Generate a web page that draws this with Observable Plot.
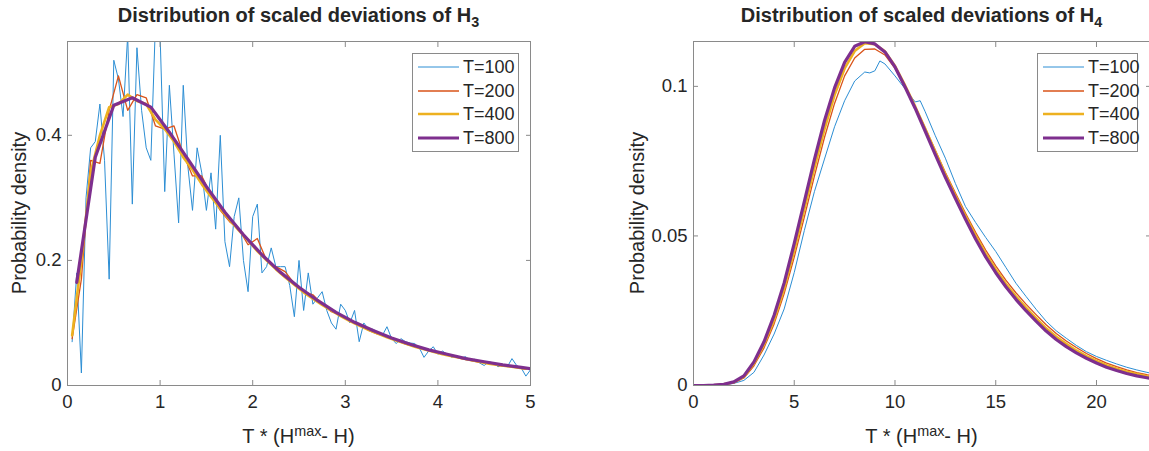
<!DOCTYPE html>
<html><head><meta charset="utf-8">
<script src="https://cdn.jsdelivr.net/npm/d3@7"></script>
<script src="https://cdn.jsdelivr.net/npm/@observablehq/plot@0.6"></script>
<style>
html,body{margin:0;padding:0;background:#fff;overflow:hidden;}
#root{position:relative;width:1149px;height:451px;overflow:hidden;font-family:"Liberation Sans",Arial,Helvetica,sans-serif;color:#262626;}
.panel{position:absolute;top:0;}
.title{position:absolute;top:3px;font-weight:bold;font-size:20px;line-height:24px;text-align:center;white-space:nowrap;}
.title sub{font-size:0.72em;vertical-align:-0.35em;line-height:0;}
.xlab{position:absolute;top:424px;font-size:20px;line-height:24px;text-align:center;white-space:nowrap;}
.xlab sup{font-size:0.72em;vertical-align:0.5em;line-height:0;}
.ylab{position:absolute;font-size:20px;line-height:22px;white-space:nowrap;transform:translate(-50%,-50%) rotate(-90deg);}
.legend{position:absolute;background:#fff;border:1px solid #8a8a8a;box-sizing:border-box;}
.legend .row{position:absolute;left:0;height:22px;font-size:18px;line-height:22px;white-space:nowrap;}
.legend svg{position:absolute;left:4px;top:0;}
.legend span{position:absolute;}
</style></head><body><div id="root"></div>
<script>
// ---------- data ----------
const seriesNames = ["T=100", "T=200", "T=400", "T=800"];

// H3 panel
const h3X100 = [0.05,0.1,0.15,0.2,0.25,0.3,0.35,0.4,0.45,0.5,0.55,0.6,0.65,0.7,0.75,0.8,0.85,0.9,0.95,1,1.05,1.1,1.15,1.2,1.25,1.3,1.35,1.4,1.45,1.5,1.55,1.6,1.65,1.7,1.75,1.8,1.85,1.9,1.95,2,2.05,2.1,2.15,2.2,2.25,2.3,2.35,2.4,2.45,2.5,2.55,2.6,2.65,2.7,2.75,2.8,2.85,2.9,2.95,3,3.05,3.1,3.15,3.2,3.25,3.3,3.35,3.4,3.45,3.5,3.55,3.6,3.65,3.7,3.75,3.8,3.85,3.9,3.95,4,4.05,4.1,4.15,4.2,4.25,4.3,4.35,4.4,4.45,4.5,4.55,4.6,4.65,4.7,4.75,4.8,4.85,4.9,4.95,5];
const h3Y100 = [0.07,0.18,0.02,0.30,0.38,0.39,0.45,0.36,0.17,0.52,
  0.49,0.43,0.56,0.29,0.54,0.44,0.38,0.36,0.58,0.56,
  0.31,0.48,0.37,0.26,0.48,0.35,0.28,0.38,0.34,0.28,
  0.34,0.25,0.40,0.23,0.19,0.27,0.30,0.20,0.15,0.27,
  0.29,0.18,0.19,0.22,0.19,0.19,0.19,0.16,0.11,0.20,
  0.12,0.18,0.13,0.14,0.15,0.12,0.10,0.09,0.13,0.12,
  0.10,0.12,0.07,0.10,0.09,0.09,0.085,0.08,0.094,0.075,
  0.067,0.075,0.07,0.068,0.067,0.06,0.045,0.055,0.062,0.05,
  0.055,0.05,0.045,0.048,0.044,0.046,0.04,0.042,0.036,0.032,
  0.038,0.036,0.03,0.034,0.03,0.043,0.032,0.028,0.015,0.025];
const h3X200 = [0.05,0.15,0.25,0.35,0.45,0.55,0.65,0.75,0.85,0.95,1.05,1.15,1.25,1.35,1.45,1.55,1.65,1.75,1.85,1.95,2.05,2.15,2.25,2.35,2.45,2.55,2.65,2.75,2.85,2.95,3.05,3.15,3.25,3.35,3.45,3.55,3.65,3.75,3.85,3.95,4.05,4.15,4.25,4.35,4.45,4.55,4.65,4.75,4.85,4.95];
const h3Y200 = [0.075,0.17,0.36,0.355,0.44,0.495,0.44,0.465,0.46,0.415,
  0.41,0.415,0.37,0.335,0.335,0.305,0.28,0.262,0.25,0.225,
  0.235,0.2,0.19,0.182,0.163,0.15,0.145,0.13,0.118,0.112,
  0.103,0.098,0.088,0.082,0.078,0.072,0.066,0.062,0.058,0.055,
  0.05,0.048,0.043,0.04,0.037,0.036,0.032,0.031,0.029,0.026];
const h3X400 = h3X200;
const h3Y400 = [0.08,0.2,0.34,0.4,0.445,0.45,0.465,0.455,0.45,0.425,
  0.41,0.39,0.365,0.345,0.322,0.302,0.283,0.265,0.248,0.232,
  0.215,0.2,0.186,0.173,0.161,0.149,0.139,0.129,0.12,0.111,
  0.103,0.096,0.089,0.083,0.077,0.072,0.067,0.062,0.058,0.054,
  0.05,0.047,0.044,0.041,0.038,0.035,0.033,0.031,0.029,0.027];
const h3X800 = [0.1,0.3,0.5,0.7,0.9,1.1,1.3,1.5,1.7,1.9,2.1,2.3,2.5,2.7,2.9,3.1,3.3,3.5,3.7,3.9,4.1,4.3,4.5,4.7,4.9,5.1];
const h3Y800 = [0.165,0.365,0.448,0.46,0.445,0.405,0.362,0.318,0.277,0.241,
  0.209,0.181,0.157,0.136,0.117,0.101,0.088,0.076,0.066,0.057,
  0.05,0.043,0.038,0.033,0.029,0.025];

// H4 panel
const h4X = [0,0.5,1,1.5,2,2.5,3,3.5,4,4.5,5,5.5,6,6.5,7,7.5,8,8.5,9,9.5,10,10.5,11,11.5,12,12.5,13,13.5,14,14.5,15,15.5,16,16.5,17,17.5,18,18.5,19,19.5,20,20.5,21,21.5,22,22.5,23];
const h4X100 = [0,0.5,1,1.5,2,2.5,3,3.5,4,4.5,5,5.5,6,6.5,7,7.5,8,8.5,8.75,9,9.25,9.5,10,10.5,11,11.25,11.5,12,12.5,13,13.5,14,14.5,15,15.5,16,16.5,17,17.5,18,18.5,19,19.5,20,20.5,21,21.5,22,22.5,23];
const h4Y100 = [0,0,0,0.0002,0.0007,0.0017,0.0044,0.0102,0.0172,0.0256,
  0.0378,0.0518,0.0648,0.0757,0.0865,0.0952,0.1018,0.1048,0.1045,0.1052,
  0.1085,0.1075,0.1035,0.0992,0.0948,0.0952,0.0915,0.0835,0.076,0.0675,
  0.0598,0.0545,0.0495,0.0448,0.0395,0.0342,0.0298,0.0255,0.0215,0.0183,
  0.0158,0.0134,0.0113,0.0097,0.0084,0.0072,0.0061,0.0052,0.0044,0.0037];
const h4Y200 = [0,0,0.0001,0.0003,0.0009,0.0025,0.0066,0.0126,0.0206,0.0307,
  0.0429,0.0563,0.07,0.0829,0.0943,0.1035,0.1095,0.1124,0.1125,0.1105,
  0.106,0.1,0.0933,0.0861,0.0786,0.0712,0.0643,0.0576,0.0512,0.0453,
  0.04,0.0352,0.031,0.0272,0.0237,0.0203,0.0174,0.0149,0.0127,0.0107,
  0.009,0.0075,0.0063,0.0052,0.0043,0.0036,0.003];
const h4Y400 = [0,0,0.0001,0.0004,0.0011,0.0029,0.0074,0.0137,0.022,0.0325,
  0.0452,0.059,0.0728,0.0857,0.0971,0.106,0.1118,0.1144,0.1141,0.1117,
  0.1068,0.1003,0.0933,0.0858,0.0781,0.0705,0.0634,0.0566,0.0501,0.0441,
  0.0388,0.034,0.0298,0.026,0.0225,0.0191,0.0163,0.0139,0.0117,0.0098,
  0.0082,0.0068,0.0056,0.0046,0.0038,0.0031,0.0025];
const h4Y800 = [0,0,0.0001,0.0004,0.0012,0.0032,0.0079,0.0146,0.0235,0.0343,
  0.0475,0.0615,0.0755,0.0885,0.0995,0.108,0.1134,0.1149,0.1142,0.1115,
  0.1065,0.0998,0.0927,0.085,0.0772,0.0696,0.0625,0.0556,0.049,0.043,
  0.0377,0.033,0.0288,0.025,0.0215,0.0182,0.0154,0.013,0.0109,0.0091,
  0.0075,0.0061,0.005,0.004,0.0032,0.0026,0.002];

const h3XTicks = [0, 1, 2, 3, 4, 5];
const h3YTicks = [0, 0.2, 0.4];
const h4XTicks = [0, 5, 10, 15, 20];
const h4YTicks = [0, 0.05, 0.1];

// ---------- styles ----------
const lineStyle = {
  "T=100": {stroke: "#2c8ed4", width: 1},
  "T=200": {stroke: "#D95319", width: 1.3},
  "T=400": {stroke: "#EDB120", width: 2.6},
  "T=800": {stroke: "#7E2F8E", width: 3.2}
};
const FONT = '"Liberation Sans", Arial, Helvetica, sans-serif';
const AXIS = "#8a8a8a";

function rows(xs, ys) { return xs.map((x, i) => ({x, y: ys[i]})); }
const fmt = d => String(d);

function panel(series, xDomain, yDomain, xTicks, yTicks, width, marginLeft, marginRight) {
  const lines = series.map(([name, data]) =>
    Plot.line(data, {x: "x", y: "y", stroke: lineStyle[name].stroke, strokeWidth: lineStyle[name].width, clip: true}));
  return Plot.plot({
    width, height: 451, marginLeft, marginRight, marginTop: 41, marginBottom: 66,
    x: {domain: xDomain},
    y: {domain: yDomain},
    style: {fontFamily: FONT, fontSize: "18.5px", color: "#262626", background: "transparent", overflow: "visible"},
    marks: [
      ...lines,
      Plot.frame({stroke: AXIS}),
      Plot.axisX(xTicks, {anchor: "bottom", tickSize: 0, tickPadding: 9, tickFormat: fmt, label: null}),
      Plot.axisX(xTicks, {anchor: "bottom", tickSize: -5, tickFormat: () => "", label: null, stroke: AXIS}),
      Plot.axisX(xTicks, {anchor: "top", tickSize: -5, tickFormat: () => "", label: null, stroke: AXIS}),
      Plot.axisY(yTicks, {anchor: "left", tickSize: 0, tickPadding: 6, tickFormat: fmt, label: null}),
      Plot.axisY(yTicks, {anchor: "left", tickSize: -5, tickFormat: () => "", label: null, stroke: AXIS}),
      Plot.axisY(yTicks, {anchor: "right", tickSize: -5, tickFormat: () => "", label: null, stroke: AXIS})
    ]
  });
}

const root = document.getElementById("root");

const left = panel([
  ["T=100", rows(h3X100, h3Y100)],
  ["T=200", rows(h3X200, h3Y200)],
  ["T=400", rows(h3X400, h3Y400)],
  ["T=800", rows(h3X800, h3Y800)]
], [0, 5], [0, 0.55], h3XTicks, h3YTicks, 575, 67, 45);
left.classList.add("panel"); left.style.left = "0px";
root.appendChild(left);

const right = panel([
  ["T=100", rows(h4X100, h4Y100)],
  ["T=200", rows(h4X, h4Y200)],
  ["T=400", rows(h4X, h4Y400)],
  ["T=800", rows(h4X, h4Y800)]
], [0, 22.68], [0, 0.115], h4XTicks, h4YTicks, 575, 118, 0);
right.classList.add("panel"); right.style.left = "575px";
root.appendChild(right);

function addHTML(cls, html, css) {
  const d = document.createElement("div");
  d.className = cls; d.innerHTML = html;
  Object.assign(d.style, css);
  root.appendChild(d);
  return d;
}
addHTML("title", "Distribution of scaled deviations of H<sub>3</sub>", {left: "67px", width: "463px"});
addHTML("title", "Distribution of scaled deviations of H<sub>4</sub>", {left: "693px", width: "457px"});
addHTML("xlab", "T * (H<sup>max</sup>- H)", {left: "67px", width: "463px"});
addHTML("xlab", "T * (H<sup>max</sup>- H)", {left: "693px", width: "457px"});
addHTML("ylab", "Probability density", {left: "19px", top: "213px"});
addHTML("ylab", "Probability density", {left: "637px", top: "213px"});

function legend(x, y, w) {
  const box = addHTML("legend", "", {left: x + "px", top: y + "px", width: w + "px", height: "99px"});
  seriesNames.forEach((name, i) => {
    const r = document.createElement("div");
    r.className = "row";
    r.style.top = (2 + 23.5 * i) + "px";
    r.style.width = w + "px";
    const s = lineStyle[name];
    r.innerHTML = `<svg width="44" height="22"><line x1="1" x2="42" y1="11" y2="11" stroke="${s.stroke}" stroke-width="${s.width}"/></svg><span style="left:50px">${name}</span>`;
    box.appendChild(r);
  });
}
legend(412, 53, 107);
legend(1037, 53, 101);
</script></body></html>
